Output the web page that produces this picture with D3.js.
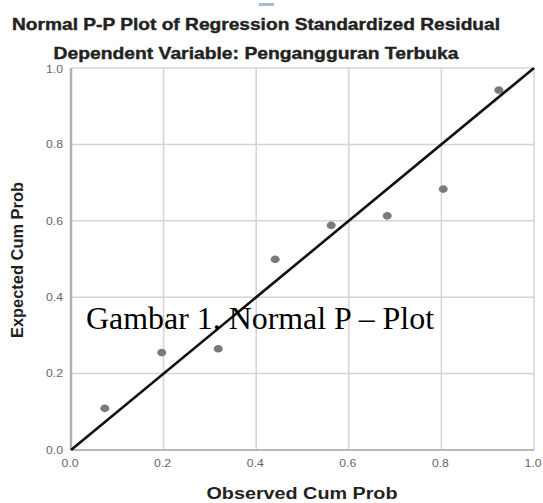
<!DOCTYPE html>
<html><head><meta charset="utf-8">
<script src="https://cdn.jsdelivr.net/npm/d3@7"></script>
<style>body{margin:0;background:#fff}svg{display:block}</style>
</head><body>
<script>
const observed = [0.073, 0.196, 0.318, 0.441, 0.562, 0.683, 0.804, 0.924];
const expected = [0.109, 0.255, 0.265, 0.499, 0.588, 0.613, 0.683, 0.942];
const ticks = [0.0, 0.2, 0.4, 0.6, 0.8, 1.0];
const title1 = "Normal P-P Plot of Regression Standardized Residual";
const title2 = "Dependent Variable: Pengangguran Terbuka";
const xLabel = "Observed Cum Prob";
const yLabel = "Expected Cum Prob";
const caption = "Gambar 1. Normal P \u2013 Plot";

const W = 543, H = 503;
const svg = d3.select("body").append("svg").attr("width", W).attr("height", H);
const x = d3.scaleLinear().domain([0, 1]).range([71, 534]);
const y = d3.scaleLinear().domain([0, 1]).range([450, 68]);

// small blue mark at top
svg.append("rect").attr("x", 259).attr("y", 3).attr("width", 15).attr("height", 3).attr("fill", "#a9bcd6");

// titles
svg.append("text").attr("x", 256).attr("y", 30).attr("text-anchor", "middle")
  .attr("font-family", "Liberation Sans, Arial, sans-serif").attr("font-weight", "bold")
  .attr("font-size", 17).attr("fill", "#222").attr("stroke", "#222").attr("stroke-width", 0.4)
  .attr("textLength", 488).attr("lengthAdjust", "spacingAndGlyphs").text(title1);
svg.append("text").attr("x", 256).attr("y", 59).attr("text-anchor", "middle")
  .attr("font-family", "Liberation Sans, Arial, sans-serif").attr("font-weight", "bold")
  .attr("font-size", 17).attr("fill", "#222").attr("stroke", "#222").attr("stroke-width", 0.4)
  .attr("textLength", 405).attr("lengthAdjust", "spacingAndGlyphs").text(title2);

// grid
const g = svg.append("g");
g.selectAll(".gx").data(ticks.slice(1)).join("line")
  .attr("x1", d => x(d)).attr("x2", d => x(d)).attr("y1", y(0)).attr("y2", y(1))
  .attr("stroke", "#d4d4d4").attr("stroke-width", 1.5);
g.selectAll(".gy").data(ticks.slice(1)).join("line")
  .attr("x1", x(0)).attr("x2", x(1)).attr("y1", d => y(d)).attr("y2", d => y(d))
  .attr("stroke", "#d4d4d4").attr("stroke-width", 1.5);

// axes lines
svg.append("line").attr("x1", x(0)).attr("x2", x(0)).attr("y1", y(0)).attr("y2", y(1))
  .attr("stroke", "#b0b0b0").attr("stroke-width", 2.5);
svg.append("line").attr("x1", x(0)).attr("x2", x(1)).attr("y1", y(0)).attr("y2", y(0))
  .attr("stroke", "#b8b8b8").attr("stroke-width", 2);

// tick labels
const tf = d3.format(".1f");
svg.selectAll(".ty").data(ticks).join("text")
  .attr("x", 63).attr("y", d => y(d) + (d === 1 ? 1 : 0)).attr("dy", "0.35em").attr("text-anchor", "end")
  .attr("font-family", "Liberation Sans, Arial, sans-serif").attr("font-size", 11)
  .attr("fill", "#666").attr("textLength", 17).attr("lengthAdjust", "spacingAndGlyphs")
  .text(d => tf(d));
svg.selectAll(".tx").data(ticks).join("text")
  .attr("x", d => x(d) - 1).attr("y", 467).attr("text-anchor", "middle")
  .attr("font-family", "Liberation Sans, Arial, sans-serif").attr("font-size", 11)
  .attr("fill", "#666").attr("textLength", 17).attr("lengthAdjust", "spacingAndGlyphs")
  .text(d => tf(d));

// axis labels
svg.append("text").attr("x", 302).attr("y", 499).attr("text-anchor", "middle")
  .attr("font-family", "Liberation Sans, Arial, sans-serif").attr("font-weight", "bold")
  .attr("font-size", 16).attr("fill", "#222")
  .attr("textLength", 191).attr("lengthAdjust", "spacingAndGlyphs").text(xLabel);
svg.append("text").attr("transform", "translate(23,260) rotate(-90)").attr("text-anchor", "middle")
  .attr("font-family", "Liberation Sans, Arial, sans-serif").attr("font-weight", "bold")
  .attr("font-size", 16).attr("fill", "#222")
  .attr("textLength", 156).attr("lengthAdjust", "spacingAndGlyphs").text(yLabel);

// points
svg.selectAll(".pt").data(observed).join("ellipse")
  .attr("cx", d => x(d)).attr("cy", (d, i) => y(expected[i]))
  .attr("rx", 4.5).attr("ry", 3.8).attr("fill", "#7a7a7a");

// diagonal reference line
svg.append("line").attr("x1", x(0)).attr("y1", y(0)).attr("x2", x(1)).attr("y2", y(1))
  .attr("stroke", "#111").attr("stroke-width", 2.6);

// caption overlay
svg.append("text").attr("x", 86).attr("y", 329)
  .attr("font-family", "Liberation Serif, Times New Roman, serif").attr("font-size", 31)
  .attr("fill", "#000").attr("textLength", 348).attr("lengthAdjust", "spacingAndGlyphs").text(caption);
</script>
</body></html>
